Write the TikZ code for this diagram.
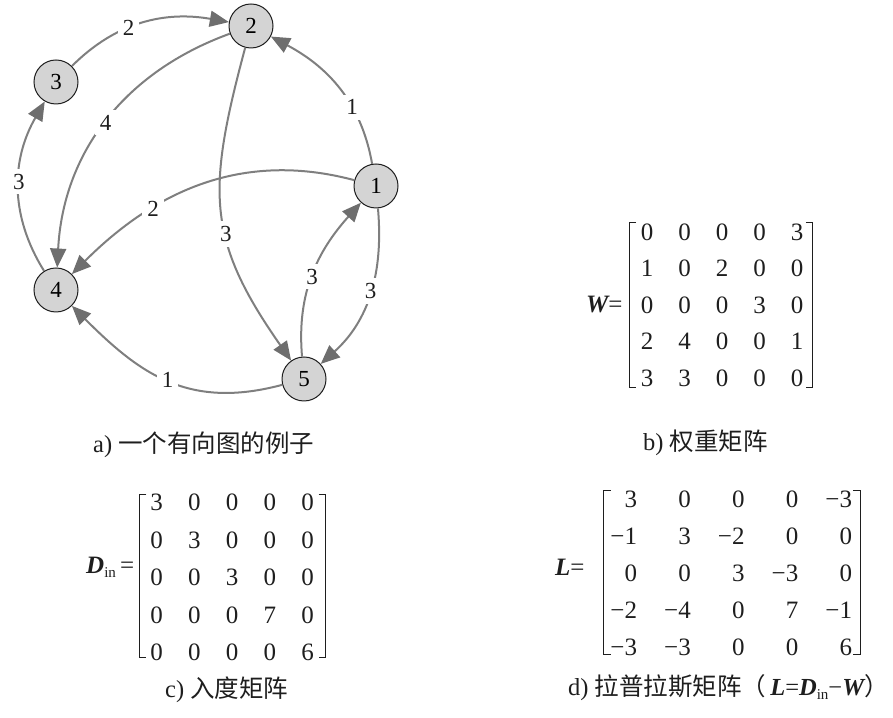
\documentclass[tikz,border=0pt]{standalone}
\usepackage{fontspec}
\setmainfont{Liberation Serif}
\newfontfamily\cjk{Noto Sans CJK SC}
\usetikzlibrary{arrows.meta,matrix}
\definecolor{edgegray}{HTML}{7F7F7F}
\definecolor{tipgray}{HTML}{6E6E6E}
\definecolor{nodefill}{HTML}{D4D4D4}
\definecolor{inkc}{HTML}{1E1E1E}
\newcommand{\bi}[1]{{\bfseries\itshape #1}}
\newcommand{\subin}{\raisebox{-4pt}{\fontsize{15}{15}\selectfont in}}
\begin{document}
\begin{tikzpicture}[x=1pt,y=1pt,
  vtx/.style={circle,draw=inkc,line width=1pt,fill=nodefill,minimum size=44pt,inner sep=0pt,font=\fontsize{23}{23}\selectfont},
  edgeline/.style={draw=edgegray,line width=2pt,-{Triangle[length=19pt,width=16pt,fill=tipgray,color=tipgray]}},
  wlab/.style={fill=white,inner sep=5pt,font=\fontsize{23}{23}\selectfont,text=inkc},
  captext/.style={anchor=west,inner sep=0pt,font=\fontsize{24.5}{24.5}\selectfont,text=inkc},
  mlab/.style={anchor=west,inner sep=0pt,font=\fontsize{25}{25}\selectfont,text=inkc},
  brk/.style={draw=inkc,line width=1pt},
  mymat/.style={matrix of nodes,inner sep=0pt,column sep=0pt,row sep=0pt,
    nodes={inner sep=0pt,text height=17pt,text depth=0pt,font=\fontsize{25}{25}\selectfont,text=inkc}}
]
\useasboundingbox (0,0) rectangle (893,717);
% graph
\node[vtx] (n1) at (376,531) {1};
\node[vtx] (n2) at (251,691) {2};
\node[vtx] (n3) at (56,635) {3};
\node[vtx] (n4) at (56,427) {4};
\node[vtx] (n5) at (304,338) {5};
\draw[edgeline] (n3) to[out=45,in=170] node[wlab,pos=0.4] (l32) {2} (n2);
\draw[edgeline] (n1) to[out=100,in=-28] node[wlab,pos=0.35] (l12) {1} (n2);
\draw[edgeline] (n2) to[out=200,in=87] node[wlab,pos=0.5] (l24) {4} (n4);
\draw[edgeline] (n4) to[out=122,in=240] node[wlab,pos=0.53] (l43) {3} (n3);
\draw[edgeline] (n1) to[out=165,in=45] node[wlab,pos=0.68] (l14) {2} (n4);
\draw[edgeline] (n2) to[out=255,in=125,looseness=1.2] node[wlab,pos=0.58] (l25) {3} (n5);
\draw[edgeline] (n5) to[out=95,in=228] node[wlab,pos=0.48] (l51) {3} (n1);
\draw[edgeline] (n1) to[out=-85,in=42] node[wlab,pos=0.48] (l15) {3} (n5);
\draw[edgeline] (n5) to[out=195,in=-45,looseness=1.1] node[wlab,pos=0.5] (l54) {1} (n4);
% captions
\node[captext] (capa) at (93,272) {a) {\cjk 一个有向图的例子}};
\node[captext] (capb) at (643,274) {b) {\cjk 权重矩阵}};
\node[captext] (capc) at (165,27) {c) {\cjk 入度矩阵}};
\node[captext] (capd) at (568,29) {d) {\cjk 拉普拉斯矩阵（}\,\bi{L}=\bi{D}\subin−\bi{W}{\cjk ）}};
% W matrix
\node[mlab] (Wl) at (586,412) {\bi{W}=};
\matrix (W) [mymat,nodes={minimum width=37.5pt,minimum height=36.5pt}] at (722,412) {
0 & 0 & 0 & 0 & 3 \\
1 & 0 & 2 & 0 & 0 \\
0 & 0 & 0 & 3 & 0 \\
2 & 4 & 0 & 0 & 1 \\
3 & 3 & 0 & 0 & 0 \\
};
\draw[brk] ([shift={(8,-9)}]W.north west) -- ([shift={(1,-9)}]W.north west) -- ([shift={(1,9)}]W.south west) -- ([shift={(8,9)}]W.south west);
\draw[brk] ([shift={(-10,-9)}]W.north east) -- ([shift={(-3,-9)}]W.north east) -- ([shift={(-3,9)}]W.south east) -- ([shift={(-10,9)}]W.south east);
% D matrix
\node[mlab] (Dl) at (86,150) {\bi{D}\subin\,=};
\matrix (D) [mymat,nodes={minimum width=37.75pt,minimum height=37.5pt}] at (232,140) {
3 & 0 & 0 & 0 & 0 \\
0 & 3 & 0 & 0 & 0 \\
0 & 0 & 3 & 0 & 0 \\
0 & 0 & 0 & 7 & 0 \\
0 & 0 & 0 & 0 & 6 \\
};
\draw[brk] ([shift={(9,-11)}]D.north west) -- ([shift={(2,-11)}]D.north west) -- ([shift={(2,13)}]D.south west) -- ([shift={(9,13)}]D.south west);
\draw[brk] ([shift={(-8,-11)}]D.north east) -- ([shift={(-1,-11)}]D.north east) -- ([shift={(-1,13)}]D.south east) -- ([shift={(-8,13)}]D.south east);
% L matrix
\node[mlab] (Ll) at (555,150) {\bi{L}=};
\matrix (L) [mymat,column sep=17.75pt,nodes={text width=36pt,align=right,minimum height=37pt}] at (726.5,144) {
3 & 0 & 0 & 0 & −3 \\
−1 & 3 & −2 & 0 & 0 \\
0 & 0 & 3 & −3 & 0 \\
−2 & −4 & 0 & 7 & −1 \\
−3 & −3 & 0 & 0 & 6 \\
};
\draw[brk] ([shift={(10,-10)}]L.north west) -- ([shift={(3,-10)}]L.north west) -- ([shift={(3,11)}]L.south west) -- ([shift={(10,11)}]L.south west);
\draw[brk] ([shift={(1,-10)}]L.north east) -- ([shift={(8,-10)}]L.north east) -- ([shift={(8,11)}]L.south east) -- ([shift={(1,11)}]L.south east);
\end{tikzpicture}
\end{document}
